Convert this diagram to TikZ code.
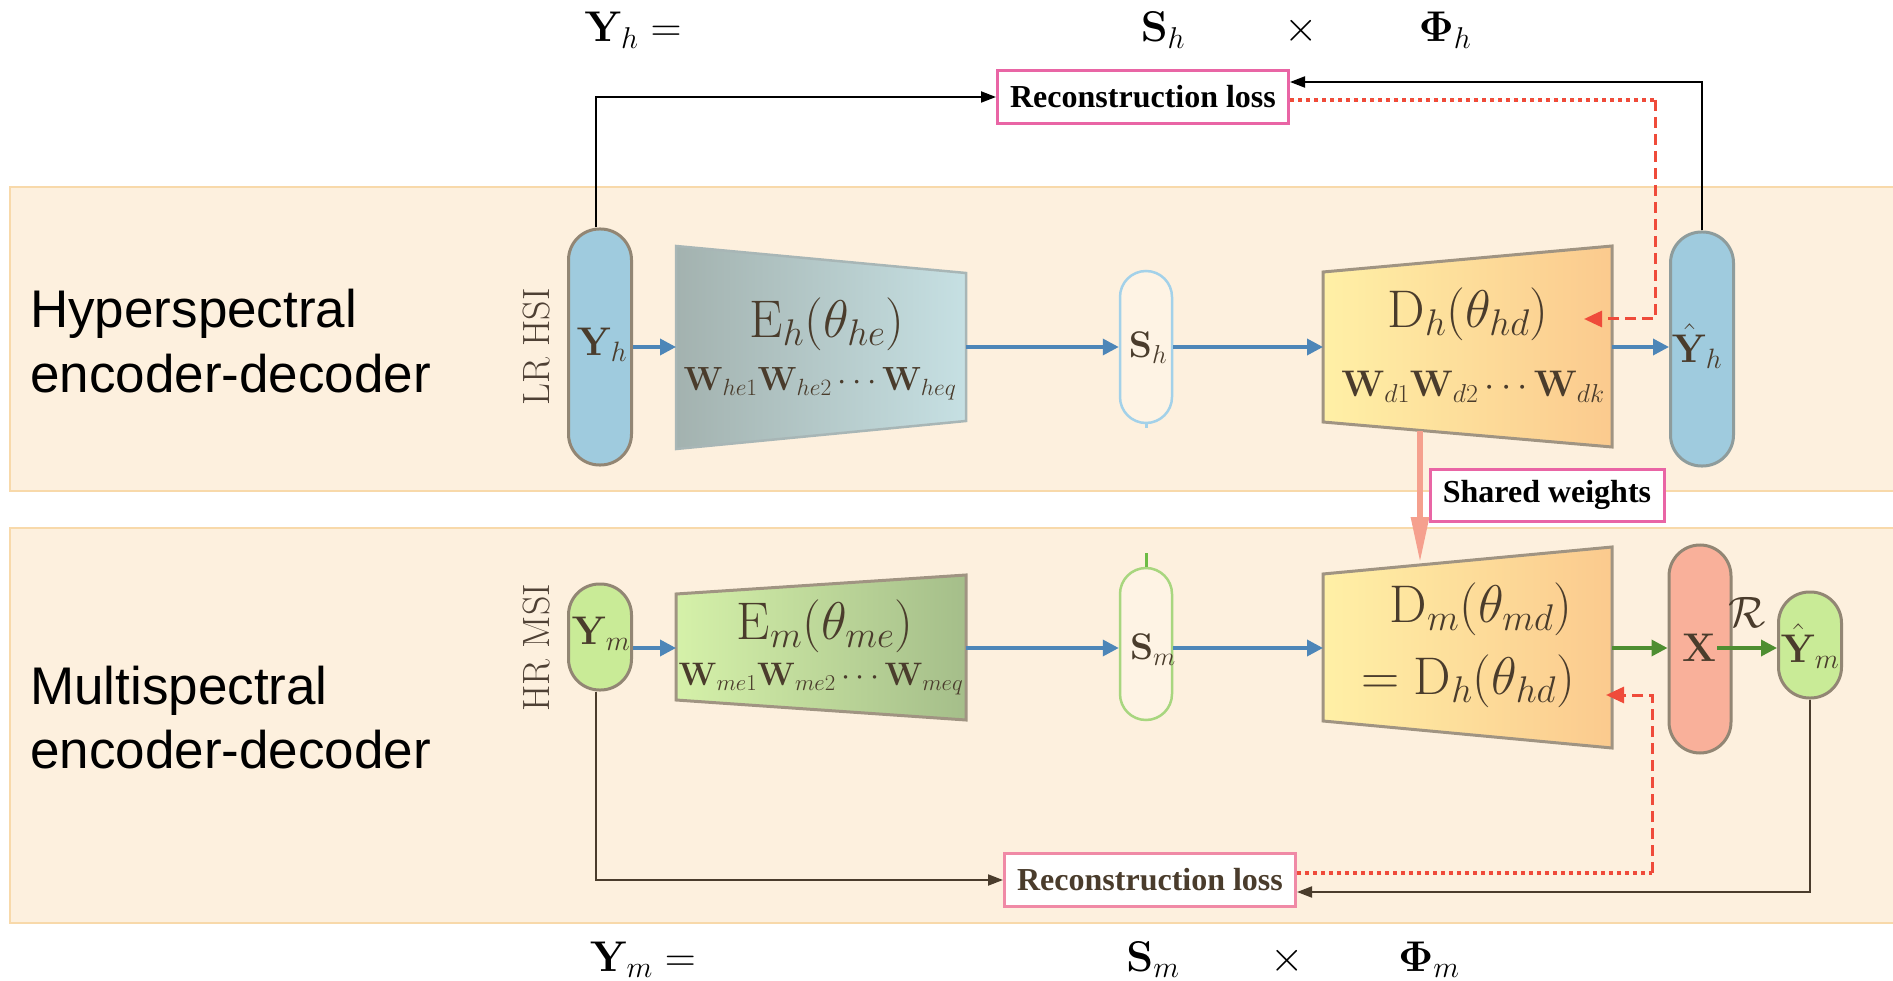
\RequirePackage{fix-cm}
\documentclass[tikz,border=0pt]{standalone}
\usepackage[no-math]{fontspec}
\usepackage{amsmath}
\usepackage{graphicx}
\usetikzlibrary{arrows.meta}
\newfontfamily\sansf{Liberation Sans}
\newfontfamily\serff{Liberation Serif}
\definecolor{panelfill}{HTML}{FDF0DE}
\definecolor{panelline}{HTML}{F8D9AA}
\definecolor{ink}{HTML}{4A3C2C}
\definecolor{ink2}{HTML}{4E4034}
\definecolor{pillline}{HTML}{928674}
\definecolor{pilllineb}{HTML}{8E9C9C}
\definecolor{trapline}{HTML}{A09482}
\definecolor{ehline}{HTML}{A8B6B6}
\definecolor{blueA}{HTML}{4D86B8}
\definecolor{pillblue}{HTML}{9FCBDE}
\definecolor{pillgreen}{HTML}{C9EB97}
\definecolor{pillsalmon}{HTML}{F9B09A}
\definecolor{redd}{HTML}{EF4B3A}
\definecolor{pinkA}{HTML}{E965A5}
\definecolor{pinkB}{HTML}{F08AA6}
\definecolor{greenA}{HTML}{4E8E31}
\definecolor{sharedc}{HTML}{F5A08E}
\definecolor{shblue}{HTML}{A3D1E9}
\definecolor{smgreen}{HTML}{A8D67F}
\definecolor{smtick}{HTML}{6DBB45}
\definecolor{sfill}{HTML}{FEF3E4}
\definecolor{ehL}{HTML}{A3B2AF}
\definecolor{ehR}{HTML}{C6E0E3}
\definecolor{dL}{HTML}{FFF0A6}
\definecolor{dR}{HTML}{FBCA8E}
\definecolor{emL}{HTML}{D5F1A9}
\definecolor{emR}{HTML}{A5BE8A}
\tikzset{
  panel/.style={fill=panelfill, draw=panelline, line width=1.5pt},
  pill/.style={draw=pillline, line width=3pt, inner sep=0pt, text=ink, font=\fontsize{39}{46}\selectfont},
  trapshape/.style={draw=trapline, line width=3pt},
  barrow/.style={draw=blueA, line width=3.5pt, -{Triangle[length=16pt,width=16pt]}},
  garrow/.style={draw=greenA, line width=3.5pt, -{Triangle[length=16pt,width=16pt]}},
  kline/.style={line width=2pt, -{Triangle[length=15pt,width=11pt]}},
  rdot/.style={draw=redd, line width=3.5pt, dash pattern=on 4pt off 4pt},
  rdash/.style={draw=redd, line width=3pt, dash pattern=on 11pt off 6pt, -{Triangle[length=18pt,width=16pt]}},
  lossbox/.style={line width=3pt, fill=white, minimum width=291pt, minimum height=53pt, inner sep=0pt, font=\serff\bfseries\fontsize{32}{38}\selectfont},
  bigm/.style={font=\fontsize{53}{60}\selectfont, text=ink, inner sep=0pt},
  midm/.style={font=\fontsize{33.5}{38}\selectfont, text=ink, inner sep=0pt},
  pilltext/.style={font=\fontsize{40}{46}\selectfont, text=ink, inner sep=0pt},
  formula/.style={font=\fontsize{43}{50}\selectfont, anchor=base, inner sep=0pt},
  side/.style={font=\sansf\fontsize{53}{64}\selectfont, anchor=base west, inner sep=0pt},
  vert/.style={font=\fontsize{38}{42}\selectfont, text=ink2, rotate=90, inner sep=0pt},
}
\begin{document}
\begin{tikzpicture}[x=1pt,y=-1pt]
\useasboundingbox (0,0) rectangle (1893,981);
\fill[white] (0,0) rectangle (1893,981);
% panels
\path[panel] (10,187) rectangle (1905,491);
\path[panel] (10,528) rectangle (1905,923);
% side titles
\node[side] (hyp1) at (30,328) {Hyperspectral};
\node[side] (hyp2) at (30,392) {encoder-decoder};
\node[side] (mul1) at (30,704) {Multispectral};
\node[side] (mul2) at (30,768) {encoder-decoder};
\node[vert] (lrhsi) at (537,347) {LR HSI};
\node[vert] (hrmsi) at (537,648) {HR MSI};
% formulas
\node[formula] (fYh) at (633,42) {$\mathbf{Y}_h =$};
\node[formula] (fSh) at (1163,42) {$\mathbf{S}_h$};
\node[formula] (fxh) at (1301,42) {$\times$};
\node[formula] (fPh) at (1445,42) {$\mathbf{\Phi}_h$};
\node[formula] (fYm) at (643,971) {$\mathbf{Y}_m =$};
\node[formula] (fSm) at (1153,971) {$\mathbf{S}_m$};
\node[formula] (fxm) at (1287,971) {$\times$};
\node[formula] (fPm) at (1429,971) {$\mathbf{\Phi}_m$};
% trapezoids
\draw[draw=ehline, line width=2.5pt, left color=ehL, right color=ehR] (676,246) -- (966,273) -- (966,421) -- (676,449) -- cycle;
\draw[trapshape, left color=dL, right color=dR] (1323,272) -- (1612,246) -- (1612,447) -- (1323,422) -- cycle;
\draw[trapshape, left color=emL, right color=emR] (676,594) -- (966,575) -- (966,720) -- (676,700) -- cycle;
\draw[trapshape, left color=dL, right color=dR] (1323,574) -- (1612,547) -- (1612,748) -- (1323,721) -- cycle;
\coordinate (EhL) at (676,347);
\coordinate (EhR) at (966,347);
\coordinate (DhL) at (1323,347);
\coordinate (DhR) at (1612,347);
\coordinate (EmL) at (676,648);
\coordinate (EmR) at (966,648);
\coordinate (DmL) at (1323,648);
\coordinate (DmR) at (1612,648);
\node[bigm] (Ehtx) at (827,324) {$\mathrm{E}_h(\theta_{he})$};
\node[midm] (Ehw) at (820,384) {$\mathbf{W}_{he1}\mathbf{W}_{he2}\cdots\mathbf{W}_{heq}$};
\node[bigm] (Dhtx) at (1468,314) {$\mathrm{D}_h(\theta_{hd})$};
\node[midm, font=\fontsize{37}{42}\selectfont] (Dhw) at (1473,387) {$\mathbf{W}_{d1}\mathbf{W}_{d2}\cdots\mathbf{W}_{dk}$};
\node[bigm] (Emtx) at (825,626) {$\mathrm{E}_m(\theta_{me})$};
\node[midm, font=\fontsize{32.5}{36}\selectfont] (Emw) at (821,679) {$\mathbf{W}_{me1}\mathbf{W}_{me2}\cdots\mathbf{W}_{meq}$};
\node[bigm] (Dmtx) at (1481,609) {$\mathrm{D}_m(\theta_{md})$};
\node[bigm] (Dmtx2) at (1468,681) {$=\mathrm{D}_h(\theta_{hd})$};
% pills
\node[pill, fill=pillblue, minimum width=63pt, minimum height=236pt, rounded corners=31pt] (Yh) at (600,347) {};
\node[pilltext] (Yhtx) at (602,345) {$\mathbf{Y}_h$};
\node[pill, draw=shblue, line width=2.5pt, fill=sfill, minimum width=52pt, minimum height=152pt, rounded corners=26pt] (Sh) at (1146,347) {};
\node[pilltext, font=\fontsize{37}{42}\selectfont] (Shtx) at (1148,348) {$\mathbf{S}_h$};
\node[pill, draw=pilllineb, fill=pillblue, minimum width=63pt, minimum height=234pt, rounded corners=31pt] (Yhh) at (1702,349) {};
\node[pilltext] (Yhhtx) at (1697,346) {$\hat{\mathbf{Y}}_h$};
\node[pill, fill=pillgreen, minimum width=63pt, minimum height=106pt, rounded corners=31pt] (Ym) at (600,637) {};
\node[pilltext] (Ymtx) at (601,634) {$\mathbf{Y}_m$};
\node[pill, draw=smgreen, line width=2.5pt, fill=sfill, minimum width=52pt, minimum height=152pt, rounded corners=26pt] (Sm) at (1146,644) {};
\node[pilltext, font=\fontsize{37}{42}\selectfont] (Smtx) at (1153,650) {$\mathbf{S}_m$};
\node[pill, fill=pillsalmon, minimum width=62pt, minimum height=208pt, rounded corners=31pt] (X) at (1700,649) {};
\node[pilltext] (Xtx) at (1699,648) {$\mathbf{X}$};
\node[pill, fill=pillgreen, minimum width=63pt, minimum height=106pt, rounded corners=31pt] (Ymh) at (1810,645) {};
\node[pilltext] (Ymhtx) at (1810,646) {$\hat{\mathbf{Y}}_m$};
\node[font=\fontsize{44}{50}\selectfont, text=ink, inner sep=0pt] (Rl) at (1747,612) {$\mathcal{R}$};
\draw[smtick, line width=3pt] (Sm.north) -- ++(0,-14);
\draw[shblue, line width=3pt] (Sh.south) -- ++(0,4);
% blue / green arrows
\draw[barrow] (Yh.east |- EhL) -- (EhL);
\draw[barrow] (EhR) -- (EhR -| Sh.west);
\draw[barrow] (Sh.east |- DhL) -- (DhL);
\draw[barrow] (DhR) -- (DhR -| Yhh.west);
\draw[barrow] (Ym.east |- EmL) -- (EmL);
\draw[barrow] (EmR) -- (EmR -| Sm.west);
\draw[barrow] (Sm.east |- DmL) -- (DmL);
\draw[garrow] (DmR) -- (DmR -| X.west);
\coordinate (Xin) at (1717,648);
\draw[garrow] (Xin) -- (Xin -| Ymh.west);
% loss boxes
\node[lossbox, draw=pinkA] (RL1) at (1143,97) {Reconstruction loss};
\node[lossbox, draw=pinkB, text=ink] (RL2) at (1150,880) {Reconstruction loss};
\node[lossbox, draw=pinkA, minimum width=234pt, minimum height=52pt] (SW) at (1547,495) {Shared weights};
% shared weights arrow
\coordinate (swA) at (1420,431);
\coordinate (swB) at (1420,563);
\draw[draw=sharedc, line width=6pt, -{Triangle[length=46pt,width=17pt]}] (swA) -- (swB);
% top connectors
\draw[kline, black] ([xshift=-4pt]Yh.north) |- (RL1.west);
\draw[kline, black] (Yhh.north) |- ([yshift=15pt]RL1.east);
\coordinate (r1) at (1655,100);
\coordinate (r1e) at (1584,319);
\draw[rdot] ([yshift=-3pt]RL1.east) -- (r1);
\draw[rdash] (r1) |- (r1e);
% bottom connectors
\draw[kline, ink] ([xshift=-4pt]Ym.south) |- (RL2.west);
\draw[kline, ink] (Ymh.south) |- ([yshift=-12pt]RL2.east);
\coordinate (r2) at (1652,873);
\coordinate (r2e) at (1606,695);
\draw[rdot] ([yshift=7pt]RL2.east) -- (r2);
\draw[rdash] (r2) |- (r2e);
\end{tikzpicture}
\end{document}
